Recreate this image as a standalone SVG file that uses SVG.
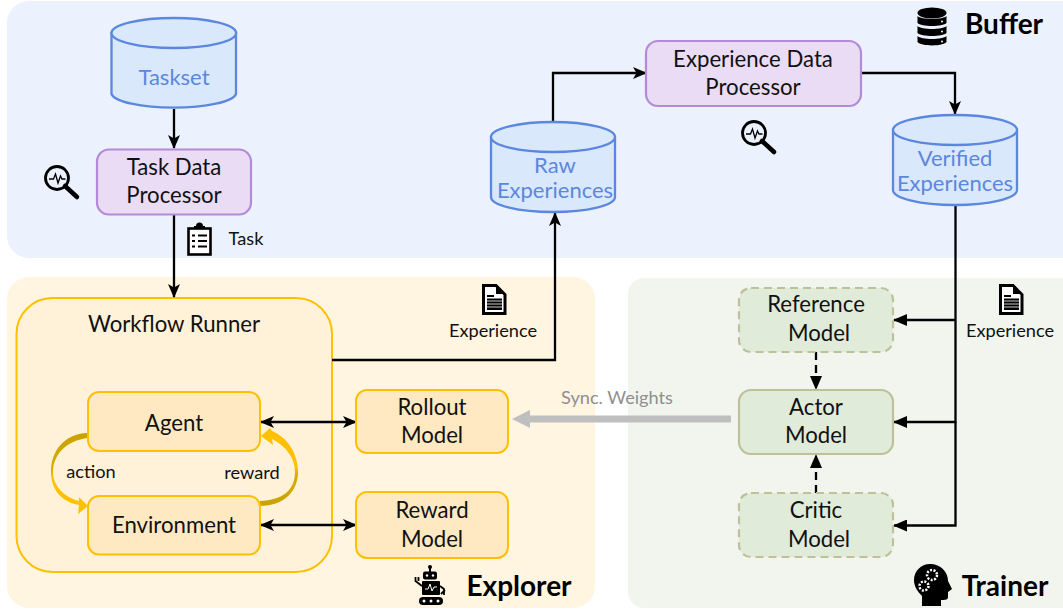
<svg xmlns="http://www.w3.org/2000/svg" width="1063" height="609" viewBox="0 0 1063 609">
<style>
text{font-family:Lato,"Liberation Sans",sans-serif;fill:#111;text-anchor:middle}
.t{font-size:22.200px}
.s{font-size:18.200px}
.b{font-size:28px;font-weight:700;fill:#000}
.cy{fill:#dae8fc;stroke:#5b87de;stroke-width:2.300}
.ct{fill:#5b87de;font-size:22px}
.p{fill:#eadcf4;stroke:#b48ad6;stroke-width:2.200}
.o{fill:#ffe9c2;stroke:#ffc000;stroke-width:2}
.g{fill:#e0ebda;stroke:#bcc19a;stroke-width:2.200}
.d{stroke-dasharray:8 5}
.l{fill:none;stroke:#000;stroke-width:2.300}
.i{fill:#000}
</style>
<defs>
<marker id="a" viewBox="0 0 14 12" refX="13" refY="6" markerWidth="14" markerHeight="12" markerUnits="userSpaceOnUse" orient="auto-start-reverse"><path d="M0 0L14 6L0 12L3.500 6Z" fill="#000"/></marker>
<marker id="f" viewBox="0 0 14 12" refX="13" refY="6" markerWidth="14" markerHeight="12" markerUnits="userSpaceOnUse" orient="auto-start-reverse"><path d="M0 0L14 6L0 12Z" fill="#000"/></marker>
<linearGradient id="ga" x1="0" y1="0" x2="0" y2="1"><stop offset="0" stop-color="#c9a200"/><stop offset=".45" stop-color="#d8ab00"/><stop offset=".55" stop-color="#ffc000"/><stop offset="1" stop-color="#ffc000"/></linearGradient>
<linearGradient id="gb" x1="0" y1="0" x2="0" y2="1"><stop offset="0" stop-color="#ffc000"/><stop offset=".5" stop-color="#ffc000"/><stop offset=".6" stop-color="#d8ab00"/><stop offset="1" stop-color="#c9a200"/></linearGradient>
<g id="mag"><circle cx="13" cy="13" r="11.500" fill="none" stroke="#000" stroke-width="2.800"/><path d="M21 21L33 32" stroke="#000" stroke-width="4.500" stroke-linecap="round"/><path d="M5 14H9.500L11.500 9L14 18L16.500 11L18 14H21.500" fill="none" stroke="#000" stroke-width="1.300"/></g>
<g id="doc"><path d="M1.500 1.500H14L23 10.500V29.500H1.500Z" fill="#fff" stroke="#000" stroke-width="3"/><path d="M14 1L23 10H14Z" fill="#000"/><path d="M5 11H12V13H5ZM5 14.500H20V26H5Z" fill="#000"/><path d="M5 17H20M5 20H20M5 23H20" stroke="#fff" stroke-width=".8"/></g>
</defs>

<g id="panels">
<rect x="7" y="1" width="1076" height="257" rx="22" fill="#ebf2fd"/>
<rect x="7" y="277" width="588" height="331" rx="22" fill="#fff5e0"/>
<rect x="628" y="278" width="455" height="330" rx="16" fill="#f2f5ee"/>
</g>

<g id="workflow-runner"><rect x="16.500" y="298" width="315.500" height="274" rx="36" fill="#fff2d8" stroke="#ffc000" stroke-width="2"/><text class="t" x="174" y="332">Workflow Runner</text></g>

<g id="connectors">
<path class="l" d="M174 109V148" marker-end="url(#a)"/>
<path class="l" d="M174 215V297" marker-end="url(#a)"/>
<path class="l" d="M332 360H555V213" marker-end="url(#a)"/>
<path class="l" d="M553 122V73H646" marker-end="url(#a)"/>
<path class="l" d="M861 73H955V114" marker-end="url(#a)"/>
<path class="l" d="M955.500 205V320" stroke-width="2.600"/>
<path class="l" d="M955.500 320H894" marker-end="url(#f)"/>
<path class="l" d="M955.500 320V422H894" marker-end="url(#f)"/>
<path class="l" d="M955.500 422V525.500H894" marker-end="url(#f)"/>
<path class="l d" d="M816 352V389" marker-end="url(#f)" stroke-dasharray="8 5"/>
<path class="l d" d="M816 493V455" marker-end="url(#f)" stroke-dasharray="8 5"/>
<path class="l" d="M261 422H356" marker-start="url(#a)" marker-end="url(#a)"/>
<path class="l" d="M261 525H356" marker-start="url(#a)" marker-end="url(#a)"/>
<path d="M731 419H526" stroke="#bfbfbf" stroke-width="7" fill="none"/><path d="M530 410L512 419L530 428Z" fill="#bfbfbf"/>
<path id="action-arc" d="M87 433C65 434 51 450 51 472C51 490 62 502 79 505L78 514L88 506L79 497L79 501C64 497 53 486 53 472C53 455 66 441 87 438Z" fill="url(#ga)"/>
<path id="reward-arc" d="M261 436L273 445L272 439C286 446 295 458 295 472C295 490 283 500 260 501L260 506C283 506 298 492 298 472C298 453 287 437 272 431L270 428Z" fill="url(#gb)"/>
</g>
<text class="s" x="617" y="404" style="fill:#8f8f8f">Sync. Weights</text>
<text class="s" x="91" y="478">action</text>
<text class="s" x="252" y="479">reward</text>

<g id="taskset"><path class="cy" d="M111.500 33V94A62.500 15 0 0 0 236 94V33Z"/><ellipse class="cy" cx="173.800" cy="33" rx="62.300" ry="15"/><text class="ct" x="174" y="85">Taskset</text></g>
<g id="task-data-processor"><rect class="p" x="97" y="149.500" width="154" height="65" rx="12"/><text class="t" x="174" y="175">Task Data</text><text class="t" x="174" y="203">Processor</text></g>
<g id="raw-experiences"><path class="cy" d="M491 137V197A62 15 0 0 0 615 197V137Z"/><ellipse class="cy" cx="553" cy="137" rx="62" ry="15"/><text class="ct" x="555" y="173">Raw</text><text class="ct" x="555" y="198">Experiences</text></g>
<g id="experience-data-processor"><rect class="p" x="646" y="41" width="215" height="65" rx="12"/><text class="t" x="753" y="67">Experience Data</text><text class="t" x="753" y="95">Processor</text></g>
<g id="verified-experiences"><path class="cy" d="M893 130V190A62 15 0 0 0 1017 190V130Z"/><ellipse class="cy" cx="955" cy="130" rx="62" ry="15"/><text class="ct" x="955" y="166">Verified</text><text class="ct" x="955" y="191">Experiences</text></g>

<g id="agent"><rect class="o" x="88" y="392" width="172" height="59" rx="11"/><text class="t" x="174" y="431">Agent</text></g>
<g id="environment"><rect class="o" x="88" y="496" width="172" height="58.500" rx="11"/><text class="t" x="174" y="533">Environment</text></g>
<g id="rollout-model"><rect class="o" x="356" y="390" width="152" height="63" rx="11"/><text class="t" x="432" y="415">Rollout</text><text class="t" x="432" y="443">Model</text></g>
<g id="reward-model"><rect class="o" x="356" y="492" width="152" height="66" rx="11"/><text class="t" x="432" y="518">Reward</text><text class="t" x="432" y="547">Model</text></g>

<g id="reference-model"><rect class="g d" x="739" y="288" width="154" height="64" rx="12"/><text class="t" x="816" y="312">Reference</text><text class="t" x="819" y="341">Model</text></g>
<g id="actor-model"><rect class="g" x="739" y="390" width="154" height="64" rx="12"/><text class="t" x="816" y="415">Actor</text><text class="t" x="816" y="443">Model</text></g>
<g id="critic-model"><rect class="g d" x="739" y="493" width="154" height="64" rx="12"/><text class="t" x="816" y="518">Critic</text><text class="t" x="819" y="547">Model</text></g>

<g id="labels">
<text class="s" x="246" y="245">Task</text>
<text class="s" x="493" y="337">Experience</text>
<text class="s" x="1010" y="337">Experience</text>
<text class="b" x="1004" y="34">Buffer</text>
<text class="b" x="519" y="596">Explorer</text>
<text class="b" x="1005" y="596">Trainer</text>
</g>

<g id="icons">
<use href="#mag" x="44" y="165"/>
<use href="#mag" x="741" y="120"/>
<g id="clipboard"><rect x="188.500" y="228.500" width="22" height="26" fill="#fff" stroke="#000" stroke-width="2.600"/><path d="M194 229V226H196A3.500 3.500 0 0 1 203 226H205V229Z" fill="#000"/><path d="M192 234.500h3v2h-3ZM198 234.500h9v2h-9ZM192 240h3v2h-3ZM198 240h9v2h-9ZM192 245.500h3v2h-3ZM198 245.500h9v2h-9Z" fill="#000"/></g>
<use href="#doc" x="482" y="284"/>
<use href="#doc" x="999" y="284"/>
<g id="database" class="i"><ellipse cx="932" cy="13" rx="14.500" ry="5.500"/><path d="M917.500 16C921 20 943 20 946.500 16V23C943 27 921 27 917.500 23Z"/><path d="M917.500 26C921 30 943 30 946.500 26V33C943 37 921 37 917.500 33Z"/><path d="M917.500 36C921 40 943 40 946.500 36V42C943 46.500 921 46.500 917.500 42Z"/><circle cx="942" cy="21.500" r="1" fill="#fff"/><circle cx="942" cy="31.500" r="1" fill="#fff"/><circle cx="942" cy="41.500" r="1" fill="#fff"/></g>
<g id="robot" class="i"><circle cx="430" cy="567" r="2"/><path d="M429 568h2v4h-2Z"/><rect x="423" y="571.500" width="14" height="8" rx="2"/><circle cx="427" cy="575.500" r="1.200" fill="#fff"/><circle cx="433" cy="575.500" r="1.200" fill="#fff"/><rect x="422" y="581" width="18" height="14" rx="1"/><path d="M425 589L428 589L430 584L432 591L434 587H437" fill="none" stroke="#fff" stroke-width="1"/><path d="M415.500 577V581L422 586M418.500 577V581" fill="none" stroke="#000" stroke-width="1.800"/><path d="M440 586L444 589V595M441 594L445 590" fill="none" stroke="#000" stroke-width="1.800"/><rect x="419" y="597" width="24" height="8" rx="4"/><circle cx="424" cy="601" r="1.500" fill="#fff"/><circle cx="431" cy="601" r="1.500" fill="#fff"/><circle cx="438" cy="601" r="1.500" fill="#fff"/></g>
<g id="head" class="i"><path d="M930 564C941 564 948 572 948 581L952 589L948 592V597C948 600 945 600 941 600V606H922V596C917 591 914 586 914 580C914 571 921 564 930 564Z"/><circle cx="932" cy="575" r="5" fill="none" stroke="#fff" stroke-width="2.500" stroke-dasharray="2 1.500"/><circle cx="924" cy="586" r="4.500" fill="none" stroke="#fff" stroke-width="2.500" stroke-dasharray="2 1.500"/></g>
</g>
</svg>
